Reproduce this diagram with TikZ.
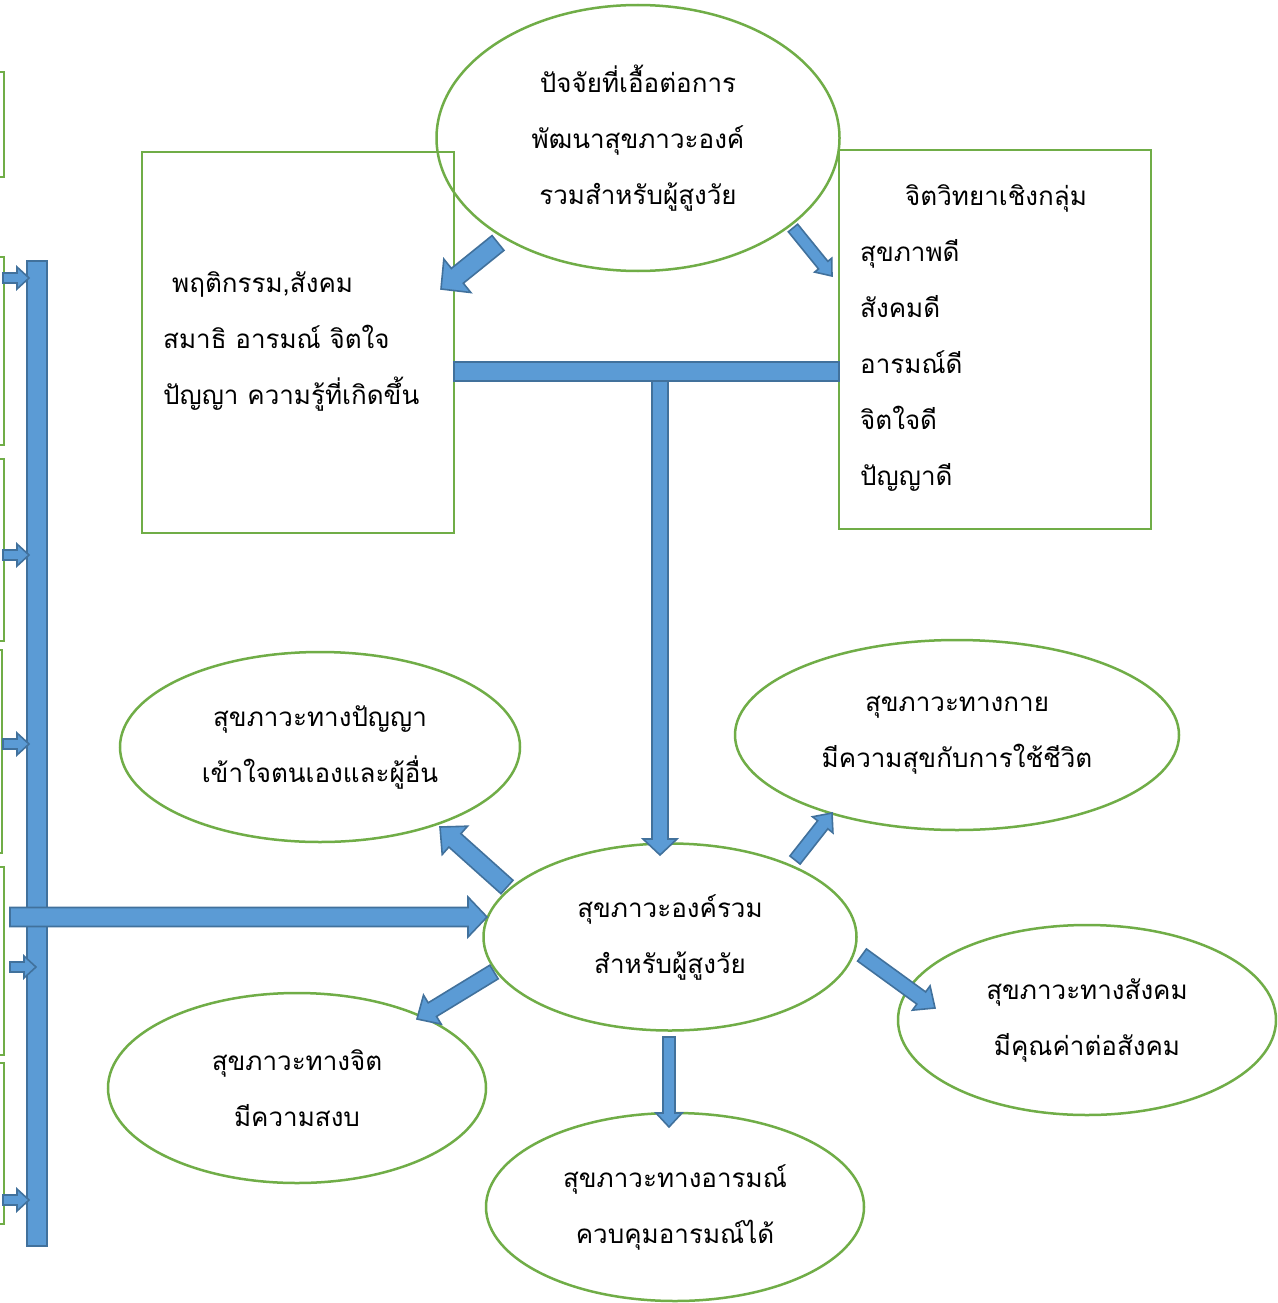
\documentclass[tikz,border=0pt]{standalone}
\usepackage{fontspec}
\newfontfamily\thaifont[Script=Thai]{Loma}
\usetikzlibrary{shapes.geometric,calc}
\definecolor{boxgreen}{HTML}{70AD47}
\definecolor{arrowfill}{HTML}{5B9BD5}
\definecolor{arrowline}{HTML}{41719C}
\tikzset{
  greenbox/.style={draw=boxgreen, line width=2.2pt, rectangle, inner sep=0pt},
  greenoval/.style={draw=boxgreen, line width=2.5pt, ellipse, inner sep=0pt, align=center, thaitext},
  barrow/.style={fill=arrowfill, draw=arrowline, line width=1.6pt, line join=miter},
  barbox/.style={barrow, rectangle, inner sep=0pt},
  thaitext/.style={font=\thaifont\fontsize{26}{56}\selectfont},
  boxtext/.style={thaitext, inner sep=0pt, align=left, anchor=west},
}
% block arrow: tail, tip, shaft half-width, head half-width, head length
\newcommand{\blockarrow}[5]{%
  \coordinate (ba-h) at ($(#2)!#5!(#1)$);
  \filldraw[barrow] ($(#1)!#3!90:(#2)$) -- ($(ba-h)!#3!90:(#2)$) -- ($(ba-h)!#4!90:(#2)$) -- (#2)
     -- ($(ba-h)!#4!-90:(#2)$) -- ($(ba-h)!#3!-90:(#2)$) -- ($(#1)!#3!-90:(#2)$) -- cycle;
}
\begin{document}
\begin{tikzpicture}[x=1pt,y=-1pt]
\clip (0,0) rectangle (1277,1303);
\fill[white] (0,0) rectangle (1277,1303);

% boxes cut by the left margin
\node[greenbox, minimum width=40pt, minimum height=105pt] (m1) at (-16,124.5) {};
\node[greenbox, minimum width=40pt, minimum height=188pt] (m2) at (-16,351) {};
\node[greenbox, minimum width=40pt, minimum height=182pt] (m3) at (-16,550) {};
\node[greenbox, minimum width=40pt, minimum height=203pt] (m4) at (-18,751.5) {};
\node[greenbox, minimum width=40pt, minimum height=188pt] (m5) at (-16,961) {};
\node[greenbox, minimum width=40pt, minimum height=161pt] (m6) at (-16,1143.5) {};

% vertical collector bar
\node[barbox, minimum width=20pt, minimum height=985pt] (vbar) at (37,753.5) {};

% top part
\node[greenoval, minimum width=403pt, minimum height=266pt] (top) at (638,138)
  {ปัจจัยที่เอื้อต่อการ\\พัฒนาสุขภาวะองค์\\รวมสำหรับผู้สูงวัย};
\node[greenbox, minimum width=312pt, minimum height=381pt] (lbox) at (298,342.5) {};
\node[greenbox, minimum width=312pt, minimum height=379pt] (rbox) at (995,339.5) {};
\node[boxtext] (ltext) at (163,341)
  {\hspace*{9pt}พฤติกรรม,สังคม\\สมาธิ อารมณ์ จิตใจ\\ปัญญา ความรู้ที่เกิดขึ้น};
\node[boxtext] (rtext) at (860,338)
  {\hspace*{45pt}จิตวิทยาเชิงกลุ่ม\\สุขภาพดี\\สังคมดี\\อารมณ์ดี\\จิตใจดี\\ปัญญาดี};
\node[barbox, minimum width=385pt, minimum height=19pt] (hbar) at (646.5,371.5) {};

% outcome ellipses
\node[greenoval, minimum width=373pt, minimum height=187pt] (hub) at (670,937)
  {สุขภาวะองค์รวม\\สำหรับผู้สูงวัย};
\node[greenoval, minimum width=400pt, minimum height=190pt] (ul) at (320,747)
  {สุขภาวะทางปัญญา\\เข้าใจตนเองและผู้อื่น};
\node[greenoval, minimum width=444pt, minimum height=190pt] (ur) at (957,735)
  {สุขภาวะทางกาย\\มีความสุขกับการใช้ชีวิต};
\node[greenoval, minimum width=378pt, minimum height=190pt] (rt) at (1087,1020)
  {สุขภาวะทางสังคม\\มีคุณค่าต่อสังคม};
\node[greenoval, minimum width=378pt, minimum height=190pt] (ll) at (297,1088)
  {สุขภาวะทางจิต\\มีความสงบ};
\node[greenoval, minimum width=378pt, minimum height=188pt] (bt) at (675,1207)
  {สุขภาวะทางอารมณ์\\ควบคุมอารมณ์ได้};

% arrow end points
\coordinate (a1s) at (498,243);  \coordinate (a1e) at (441,289);
\coordinate (a2s) at (793,228);  \coordinate (a2e) at (832,276);
\coordinate (a3s) at (660,381);  \coordinate (a3e) at (660,855);
\coordinate (a4s) at (10,917);   \coordinate (a4e) at (487,917);
\coordinate (a5s) at (507,887);  \coordinate (a5e) at (440,827);
\coordinate (a6s) at (795,860);  \coordinate (a6e) at (832,813);
\coordinate (a7s) at (494,972);  \coordinate (a7e) at (417,1019);
\coordinate (a8s) at (862,955);  \coordinate (a8e) at (935,1008);
\coordinate (a9s) at (669,1037); \coordinate (a9e) at (669,1127);

\blockarrow{a1s}{a1e}{9.5pt}{21.5pt}{21pt}
\blockarrow{a2s}{a2e}{6pt}{11pt}{14pt}
\blockarrow{a3s}{a3e}{8pt}{17pt}{16pt}
\blockarrow{a4s}{a4e}{9.5pt}{20pt}{19pt}
\blockarrow{a5s}{a5e}{9pt}{19pt}{20pt}
\blockarrow{a6s}{a6e}{6.5pt}{13pt}{15pt}
\blockarrow{a7s}{a7e}{8pt}{17pt}{18pt}
\blockarrow{a8s}{a8e}{7.5pt}{15pt}{17pt}
\blockarrow{a9s}{a9e}{6pt}{13pt}{14pt}

% small feeders into the collector bar
\coordinate (f1s) at (3,278);   \coordinate (f1e) at (29,278);
\coordinate (f2s) at (3,555);   \coordinate (f2e) at (29,555);
\coordinate (f3s) at (3,744);   \coordinate (f3e) at (29,744);
\coordinate (f4s) at (10,967);  \coordinate (f4e) at (36,967);
\coordinate (f5s) at (3,1200);  \coordinate (f5e) at (29,1200);
\blockarrow{f1s}{f1e}{5pt}{11pt}{12pt}
\blockarrow{f2s}{f2e}{5pt}{11pt}{12pt}
\blockarrow{f3s}{f3e}{5pt}{11pt}{12pt}
\blockarrow{f4s}{f4e}{5pt}{11pt}{12pt}
\blockarrow{f5s}{f5e}{5pt}{11pt}{12pt}
\end{tikzpicture}
\end{document}
